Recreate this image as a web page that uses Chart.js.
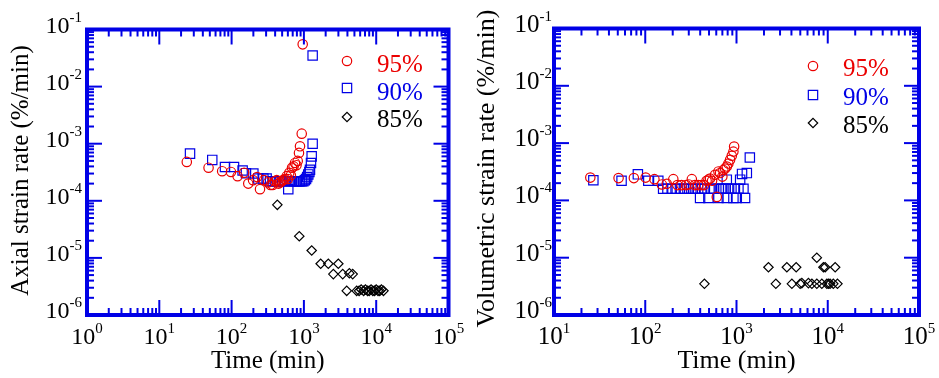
<!DOCTYPE html>
<html>
<head>
<meta charset="utf-8">
<script src="https://cdn.jsdelivr.net/npm/chart.js@4.4.0/dist/chart.umd.min.js"></script>
<style>
  body { margin: 0; background: #fff; }
  #wrap { position: relative; width: 939px; height: 378px; }
  canvas { position: absolute; top: 0; }
  #axial { left: 0; }
  #volumetric { left: 470px; }
</style>
</head>
<body>
<div id="wrap">
  <canvas id="axial" width="470" height="378"></canvas>
  <canvas id="volumetric" width="469" height="378"></canvas>
</div>
<script>
// ---- data: time (min) and strain rate (%/min) ----
const seriesLabels = ['95%', '90%', '85%'];

// axial strain rate
const axial95T = [24, 48, 74, 98, 121, 149, 170, 198, 225, 247, 281, 319, 345, 370, 395, 421, 445, 467, 490, 514, 545, 578, 600, 628, 660, 685, 720, 753, 790, 821, 855, 883, 933, 962];
const axial95R = [4.8e-4, 3.8e-4, 3.3e-4, 3.2e-4, 2.7e-4, 3.1e-4, 2.0e-4, 2.3e-4, 2.6e-4, 1.6e-4, 2.3e-4, 2.1e-4, 1.9e-4, 1.9e-4, 2.2e-4, 2.3e-4, 2.0e-4, 2.1e-4, 2.2e-4, 2.3e-4, 2.4e-4, 2.7e-4, 2.4e-4, 3.1e-4, 2.8e-4, 3.8e-4, 4.0e-4, 4.6e-4, 4.2e-4, 5.0e-4, 6.9e-4, 9.0e-4, 1.5e-3, 5.5e-2];
const axial90T = [26.6, 54, 81, 108, 142, 158, 200, 234, 275, 305, 340, 370, 398, 430, 467, 500, 548, 608, 640, 678, 720, 760, 794, 840, 883, 930, 982, 1030, 1070, 1110, 1150, 1190, 1214, 1253, 1281, 1321, 1321];
const axial90R = [6.7e-4, 5.2e-4, 3.9e-4, 3.9e-4, 3.4e-4, 3.05e-4, 3.0e-4, 2.45e-4, 2.45e-4, 2.45e-4, 2.2e-4, 2.2e-4, 2.2e-4, 2.2e-4, 2.2e-4, 2.2e-4, 2.2e-4, 1.6e-4, 2.2e-4, 2.2e-4, 2.2e-4, 2.2e-4, 2.2e-4, 2.2e-4, 2.2e-4, 2.2e-4, 2.2e-4, 2.3e-4, 2.4e-4, 2.6e-4, 2.9e-4, 3.2e-4, 3.5e-4, 4.6e-4, 6.0e-4, 1.0e-3, 3.5e-2];
const axial85T = [429, 863, 1282, 1706, 2176, 2993, 2553, 3441, 4254, 4729, 3909, 5370, 5800, 6200, 6700, 7100, 7600, 8000, 8500, 9000, 9500, 10000, 10600, 11200, 11800, 12600];
const axial85R = [8.5e-5, 2.4e-5, 1.35e-5, 7.9e-6, 7.9e-6, 7.9e-6, 5.2e-6, 5.2e-6, 5.4e-6, 5.2e-6, 2.65e-6, 2.65e-6, 2.65e-6, 2.8e-6, 2.65e-6, 2.8e-6, 2.65e-6, 2.65e-6, 2.8e-6, 2.65e-6, 2.65e-6, 2.8e-6, 2.65e-6, 2.65e-6, 2.8e-6, 2.65e-6];

// volumetric strain rate
const vol95T = [25, 51, 75, 101, 126, 152, 172, 203, 225, 250, 280, 300, 324, 350, 380, 410, 440, 470, 492, 513, 540, 582, 608, 634, 661, 700, 718, 750, 783, 815, 851, 888, 925, 942];
const vol95R = [2.5e-4, 2.45e-4, 2.45e-4, 2.5e-4, 2.35e-4, 1.9e-4, 1.95e-4, 2.35e-4, 1.85e-4, 1.85e-4, 1.85e-4, 1.9e-4, 2.35e-4, 1.85e-4, 1.85e-4, 1.85e-4, 1.85e-4, 2.2e-4, 2.3e-4, 2.4e-4, 2.2e-4, 2.8e-4, 1.15e-4, 3.2e-4, 3.0e-4, 2.6e-4, 3.4e-4, 3.6e-4, 3.9e-4, 4.4e-4, 5.1e-4, 6.0e-4, 7.1e-4, 8.7e-4];
const vol90T = [27, 55, 83, 108, 139, 157, 175, 195, 215, 240, 265, 290, 320, 350, 380, 399, 420, 450, 492, 520, 560, 634, 640, 680, 720, 760, 783, 783, 810, 880, 925, 960, 1007, 1050, 1096, 1150, 1192, 1241, 1298, 1400];
const vol90R = [2.25e-4, 2.2e-4, 2.85e-4, 2.2e-4, 2.2e-4, 1.6e-4, 1.6e-4, 1.6e-4, 1.6e-4, 1.6e-4, 1.6e-4, 1.6e-4, 1.6e-4, 1.6e-4, 1.6e-4, 1.1e-4, 1.6e-4, 1.6e-4, 1.1e-4, 1.6e-4, 1.6e-4, 1.1e-4, 1.6e-4, 1.6e-4, 1.6e-4, 1.6e-4, 1.1e-4, 2.3e-4, 1.6e-4, 1.6e-4, 1.1e-4, 1.6e-4, 1.1e-4, 1.6e-4, 2.3e-4, 2.9e-4, 1.6e-4, 1.1e-4, 3.0e-4, 5.6e-4];
const vol85T = [445, 2240, 2698, 3563, 4043, 4508, 4982, 5200, 6138, 6700, 7586, 7586, 8610, 8970, 9370, 9780, 10180, 10600, 11500, 12060, 12770];
const vol85R = [3.5e-6, 6.8e-6, 3.5e-6, 6.8e-6, 3.5e-6, 6.8e-6, 3.5e-6, 3.6e-6, 3.6e-6, 3.5e-6, 3.5e-6, 1.0e-5, 3.5e-6, 6.8e-6, 6.8e-6, 3.5e-6, 3.5e-6, 3.5e-6, 3.5e-6, 6.8e-6, 3.5e-6];

// tick label exponents (decades)
const axialXExps = [0, 1, 2, 3, 4, 5];
const volXExps = [1, 2, 3, 4, 5];
const rateYExps = [-6, -5, -4, -3, -2, -1];

const blue = 'rgb(0,0,230)';
const red = 'rgb(235,0,0)';
const serif = '"Liberation Serif", "Times New Roman", serif';

const markers = [
  {color: red, pointStyle: 'circle', radius: 4.7},
  {color: blue, pointStyle: 'rect', radius: 6.6},
  {color: '#000', pointStyle: 'rectRot', radius: 4.7}
];

function pts(t, r) {
  return t.map((v, i) => ({x: v, y: r[i]}));
}

function makeDatasets(sets) {
  return sets.map((s, i) => ({
    label: seriesLabels[i],
    data: pts(s[0], s[1]),
    pointStyle: markers[i].pointStyle,
    pointRadius: markers[i].radius,
    borderColor: markers[i].color,
    backgroundColor: 'rgba(0,0,0,0)',
    borderWidth: 1.2,
    showLine: false
  }));
}

// "10" with a raised exponent
function drawPow(ctx, exp, x, y, align, big, small) {
  ctx.font = big + 'px ' + serif;
  const w1 = ctx.measureText('10').width;
  ctx.font = small + 'px ' + serif;
  const sup = String(exp);
  const w2 = ctx.measureText(sup).width;
  const x0 = align === 'center' ? x - (w1 + w2) / 2 : x - (w1 + w2);
  ctx.font = big + 'px ' + serif;
  ctx.fillText('10', x0, y);
  ctx.font = small + 'px ' + serif;
  ctx.fillText(sup, x0 + w1, y - 11);
}

function seg(ctx, x1, y1, x2, y2) {
  ctx.beginPath();
  ctx.moveTo(x1, y1);
  ctx.lineTo(x2, y2);
  ctx.stroke();
}

function drawMarker(ctx, m, x, y) {
  ctx.strokeStyle = m.color;
  ctx.lineWidth = 1.2;
  ctx.beginPath();
  const r = m.radius;
  if (m.pointStyle === 'circle') {
    ctx.arc(x, y, r, 0, Math.PI * 2);
  } else if (m.pointStyle === 'rect') {
    const s = r * Math.SQRT1_2;
    ctx.rect(x - s, y - s, 2 * s, 2 * s);
  } else {
    ctx.moveTo(x - r, y); ctx.lineTo(x, y - r); ctx.lineTo(x + r, y); ctx.lineTo(x, y + r); ctx.closePath();
  }
  ctx.stroke();
}

// frame with inward log ticks on all four sides, labels, titles, legend
const framePlugin = {
  id: 'frame',
  afterDraw(chart, args, o) {
    const ctx = chart.ctx;
    const a = chart.chartArea;
    const xs = chart.scales.x, ys = chart.scales.y;
    ctx.save();
    ctx.strokeStyle = blue;
    ctx.lineWidth = 2;
    const xe = o.xExps, ye = o.yExps;
    for (let i = 0; i < xe.length; i++) {
      for (let k = 1; k <= 9; k++) {
        if (i === xe.length - 1 && k > 1) break;
        const px = xs.getPixelForValue(k * Math.pow(10, xe[i]));
        const len = k === 1 ? 15 : 7;
        seg(ctx, px, a.bottom, px, a.bottom - len);
        seg(ctx, px, a.top, px, a.top + len);
      }
    }
    for (let i = 0; i < ye.length; i++) {
      for (let k = 1; k <= 9; k++) {
        if (i === ye.length - 1 && k > 1) break;
        const py = ys.getPixelForValue(k * Math.pow(10, ye[i]));
        const len = k === 1 ? 15 : 7;
        seg(ctx, a.left, py, a.left + len, py);
        seg(ctx, a.right, py, a.right - len, py);
      }
    }
    ctx.lineWidth = 4;
    ctx.strokeRect(a.left, a.top, a.right - a.left, a.bottom - a.top);

    // tick labels
    ctx.fillStyle = '#000';
    ctx.textAlign = 'left';
    ctx.textBaseline = 'alphabetic';
    xe.forEach(e => drawPow(ctx, e, xs.getPixelForValue(Math.pow(10, e)), a.bottom + 29, 'center', o.tickSize, 15));
    ye.forEach(e => drawPow(ctx, e, a.left - o.labelGap, ys.getPixelForValue(Math.pow(10, e)) + 3, 'right', o.tickSize, 15));

    // axis titles
    ctx.textAlign = 'center';
    ctx.font = o.titleSize + 'px ' + serif;
    ctx.fillText('Time (min)', (a.left + a.right) / 2, 368);
    ctx.save();
    ctx.translate(o.yTitleX, o.yTitleY);
    ctx.rotate(-Math.PI / 2);
    ctx.fillText(o.yTitle, 0, 0);
    ctx.restore();

    // legend
    ctx.textAlign = 'left';
    ctx.font = '25px ' + serif;
    chart.data.datasets.forEach((ds, i) => {
      drawMarker(ctx, markers[i], o.legendX, o.legendMarkY[i]);
      ctx.fillStyle = markers[i].color;
      ctx.fillText(ds.label, o.legendTextX, o.legendTextY[i]);
    });
    ctx.restore();
  }
};

function makeChart(id, datasets, xMin, padding, frameOpts) {
  return new Chart(document.getElementById(id), {
    type: 'scatter',
    data: {datasets: datasets},
    options: {
      responsive: false,
      animation: false,
      layout: {padding: padding},
      plugins: {legend: {display: false}, tooltip: {enabled: false}, frame: frameOpts},
      scales: {
        x: {type: 'logarithmic', min: xMin, max: 1e5, display: false},
        y: {type: 'logarithmic', min: 1e-6, max: 1e-1, display: false}
      }
    },
    plugins: [framePlugin]
  });
}

const axialChart = makeChart('axial',
  makeDatasets([[axial95T, axial95R], [axial90T, axial90R], [axial85T, axial85R]]),
  1, {left: 87, right: 21.5, top: 29.5, bottom: 63},
  {xExps: axialXExps, yExps: rateYExps, tickSize: 24, titleSize: 25, labelGap: 5,
   yTitle: 'Axial strain rate (%/min)', yTitleX: 28, yTitleY: 170.5,
   legendX: 347, legendMarkY: [61, 88, 117], legendTextX: 377, legendTextY: [72, 100, 127]});

const volChart = makeChart('volumetric',
  makeDatasets([[vol95T, vol95R], [vol90T, vol90R], [vol85T, vol85R]]),
  10, {left: 84, right: 20, top: 28.5, bottom: 63},
  {xExps: volXExps, yExps: rateYExps, tickSize: 25, titleSize: 26, labelGap: 2,
   yTitle: 'Volumetric strain rate (%/min)', yTitleX: 24, yTitleY: 168.5,
   legendX: 343, legendMarkY: [66, 95, 123], legendTextX: 373, legendTextY: [76, 105, 133]});
</script>
</body>
</html>
